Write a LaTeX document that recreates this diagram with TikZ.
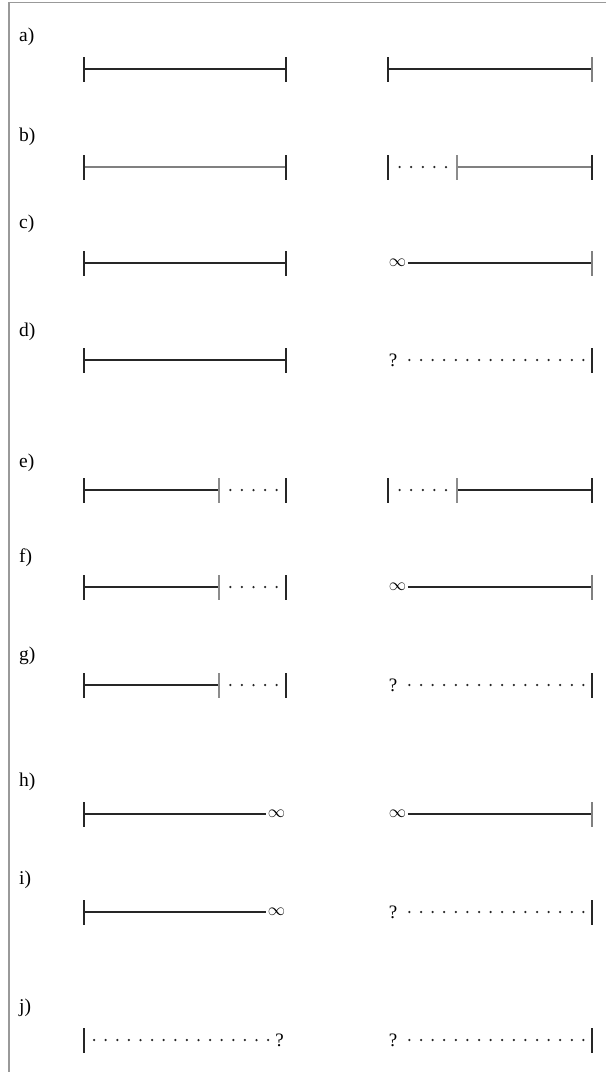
\documentclass[tikz,border=0pt]{standalone}
\usepackage{fontspec}
\setmainfont{Liberation Serif}
\tikzset{
  rowlabel/.style={anchor=west, inner sep=2pt, font=\fontsize{19.5}{22}\selectfont},
  endbar/.style={rectangle, fill=black!85, inner sep=0pt, minimum width=1.8pt, minimum height=25pt},
  softbar/.style={endbar, fill=black!45, minimum width=1.2pt},
  lightbar/.style={endbar, fill=black!50, minimum width=1.6pt},
  qsym/.style={inner sep=1.5pt, font=\fontsize{19}{21}\selectfont},
  infsym/.style={inner sep=1.5pt, font=\fontsize{17.28}{20}\selectfont},
  solidseg/.style={draw=black!85, line width=1.3pt},
  grayseg/.style={draw=black!50, line width=1.1pt},
  dotseg/.style={draw=black!85, line width=2.5pt, line cap=round,
    dash pattern=on 0pt off 11.6pt, shorten <=10.5pt, shorten >=4pt}
}

\begin{document}
\begin{tikzpicture}[x=1pt, y=-1pt]
  \useasboundingbox (0,0) rectangle (606,1072);
  \draw[black!40, line width=1.2pt] (606,2.5) -- (9,2.5) -- (9,1072);

  % a)
  \node[rowlabel] (la) at (17,37) {a)};
  \node[endbar] (a1) at (84,69) {};
  \node[endbar] (a2) at (286,69) {};
  \node[endbar] (a3) at (388,69) {};
  \node[lightbar] (a4) at (592,69) {};
  \draw[solidseg] (a1) -- (a2);
  \draw[solidseg] (a3) -- (a4);

  % b)
  \node[rowlabel] (lb) at (17,137) {b)};
  \node[endbar] (b1) at (84,167) {};
  \node[endbar] (b2) at (286,167) {};
  \node[endbar] (b3) at (388,167) {};
  \node[softbar] (bm) at (457,167) {};
  \node[endbar] (b4) at (592,167) {};
  \draw[grayseg] (b1) -- (b2);
  \draw[dotseg] (b3) -- (bm);
  \draw[grayseg] (bm) -- (b4);

  % c)
  \node[rowlabel] (lc) at (17,224) {c)};
  \node[endbar] (c1) at (84,263) {};
  \node[endbar] (c2) at (286,263) {};
  \node[infsym] (cinf) at (397.5,263) {$\infty$};
  \node[lightbar] (c4) at (592,263) {};
  \draw[solidseg] (c1) -- (c2);
  \draw[solidseg] (cinf) -- (c4);

  % d)
  \node[rowlabel] (ld) at (17,332) {d)};
  \node[endbar] (d1) at (84,360) {};
  \node[endbar] (d2) at (286,360) {};
  \node[qsym] (dq) at (393,360) {?};
  \node[endbar] (d4) at (592,360) {};
  \draw[solidseg] (d1) -- (d2);
  \draw[dotseg] (dq) -- (d4);

  % e)
  \node[rowlabel] (le) at (17,463) {e)};
  \node[endbar] (e1) at (84,490) {};
  \node[softbar] (em) at (219,490) {};
  \node[endbar] (e2) at (286,490) {};
  \node[endbar] (e3) at (388,490) {};
  \node[softbar] (en) at (457,490) {};
  \node[endbar] (e4) at (592,490) {};
  \draw[solidseg] (e1) -- (em);
  \draw[dotseg] (em) -- (e2);
  \draw[dotseg] (e3) -- (en);
  \draw[solidseg] (en) -- (e4);

  % f)
  \node[rowlabel] (lf) at (17,558) {f)};
  \node[endbar] (f1) at (84,587) {};
  \node[softbar] (fm) at (219,587) {};
  \node[endbar] (f2) at (286,587) {};
  \node[infsym] (finf) at (397.5,587) {$\infty$};
  \node[lightbar] (f4) at (592,587) {};
  \draw[solidseg] (f1) -- (fm);
  \draw[dotseg] (fm) -- (f2);
  \draw[solidseg] (finf) -- (f4);

  % g)
  \node[rowlabel] (lg) at (17,656) {g)};
  \node[endbar] (g1) at (84,685) {};
  \node[softbar] (gm) at (219,685) {};
  \node[endbar] (g2) at (286,685) {};
  \node[qsym] (gq) at (393,685) {?};
  \node[endbar] (g4) at (592,685) {};
  \draw[solidseg] (g1) -- (gm);
  \draw[dotseg] (gm) -- (g2);
  \draw[dotseg] (gq) -- (g4);

  % h)
  \node[rowlabel] (lh) at (17,782) {h)};
  \node[endbar] (h1) at (84,814) {};
  \node[infsym] (hinf) at (276.5,814) {$\infty$};
  \node[infsym] (hinfr) at (397.5,814) {$\infty$};
  \node[lightbar] (h4) at (592,814) {};
  \draw[solidseg] (h1) -- (hinf);
  \draw[solidseg] (hinfr) -- (h4);

  % i)
  \node[rowlabel] (li) at (17,880) {i)};
  \node[endbar] (i1) at (84,912) {};
  \node[infsym] (iinf) at (276.5,912) {$\infty$};
  \node[qsym] (iq) at (393,912) {?};
  \node[endbar] (i4) at (592,912) {};
  \draw[solidseg] (i1) -- (iinf);
  \draw[dotseg] (iq) -- (i4);

  % j)
  \node[rowlabel] (lj) at (17,1008) {j)};
  \node[endbar] (j1) at (84,1040) {};
  \node[qsym] (jq) at (279.5,1040) {?};
  \node[qsym] (jqr) at (393,1040) {?};
  \node[endbar] (j4) at (592,1040) {};
  \draw[dotseg, shorten <=9pt, shorten >=3pt] (j1) -- (jq);
  \draw[dotseg] (jqr) -- (j4);
\end{tikzpicture}
\end{document}
